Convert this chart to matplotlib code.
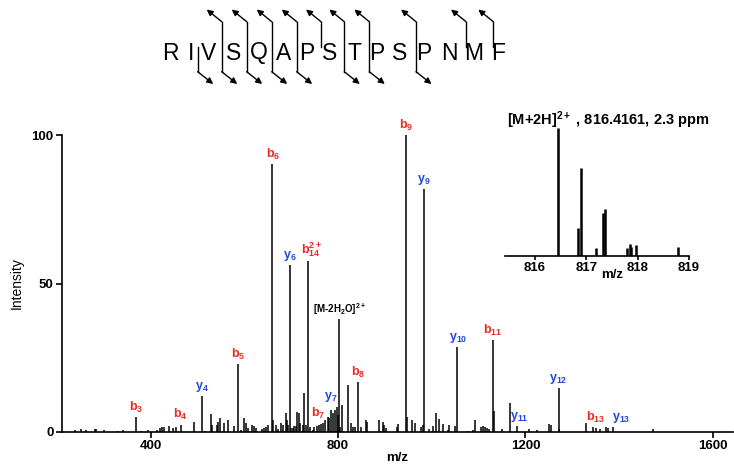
import numpy as np
import matplotlib
matplotlib.use("Agg")
import matplotlib.pyplot as plt

plt.rcParams['font.family'] = ['Liberation Sans', 'DejaVu Sans']
plt.rcParams['mathtext.fontset'] = 'custom'
plt.rcParams['mathtext.rm'] = 'Liberation Sans'
plt.rcParams['mathtext.bf'] = 'Liberation Sans:bold'
plt.rcParams['mathtext.it'] = 'Liberation Sans:italic'

# peptide and observed cleavage sites (site k = between residue k and k+1)
sequence = "RIVSQAPSTPSPNMF"
b_sites = [2, 3, 4, 5, 6, 8, 9, 11]
y_sites = [3, 4, 5, 6, 7, 8, 9, 11, 13, 14]

# MS/MS spectrum (m/z, relative intensity)
mz = [239.6, 251.0, 262.4, 281.0, 283.7, 301.4, 330.0, 342.0, 369.7, 380.0,
      394.0, 414.6, 420.0, 425.0, 429.4, 439.5, 448.6, 455.0, 464.4, 492.8,
      510.6, 516.0, 529.0, 532.0, 542.0, 544.7, 548.0, 557.5, 564.6, 578.8,
      586.5, 593.0, 598.8, 603.7, 608.7, 616.0, 620.0, 624.4, 637.0, 641.5,
      646.4, 650.0, 658.5, 662.0, 667.0, 671.0, 678.4, 683.3, 688.4, 691.0,
      694.0, 697.0, 700.0, 703.3, 705.5, 710.4, 713.2, 716.0, 719.0, 724.7,
      728.2, 731.7, 736.7, 740.0, 746.0, 749.5, 754.5, 758.8, 763.0, 768.7,
      773.0, 778.7, 781.5, 785.8, 788.7, 793.6, 797.2, 799.4, 802.0, 805.0,
      808.0, 821.3, 827.0, 831.0, 836.0, 843.3, 848.4, 859.7, 862.5, 887.0,
      896.0, 898.8, 901.8, 925.0, 927.4, 945.0, 947.0, 957.0, 964.3, 977.0,
      980.7, 983.5, 994.0, 1002.7, 1008.4, 1015.5, 1024.7, 1034.0, 1036.8, 1049.6,
      1053.9, 1076.6, 1088.7, 1092.3, 1105.0, 1110.0, 1113.6, 1117.2, 1122.0, 1130.0,
      1132.8, 1149.0, 1167.0, 1181.0, 1207.5, 1224.0, 1250.8, 1253.8, 1270.8, 1272.5,
      1329.0, 1343.4, 1350.4, 1359.0, 1371.7, 1376.0, 1387.3, 1472.6]
intensity = [0.7, 1.1, 0.6, 0.9, 0.9, 0.6, 0.45, 0.7, 5.0, 0.45,
             0.7, 0.7, 1.5, 1.6, 1.7, 2.0, 1.5, 1.8, 2.5, 3.5,
             12.1, 0.3, 5.9, 2.3, 2.3, 3.5, 4.6, 2.9, 4.0, 2.0,
             23.0, 0.7, 4.8, 2.9, 1.2, 2.3, 2.0, 1.2, 0.9, 1.2,
             1.8, 2.3, 90.3, 4.0, 2.3, 0.9, 2.9, 2.3, 6.3, 4.0,
             2.3, 56.1, 1.2, 1.2, 2.0, 2.0, 6.8, 6.3, 2.9, 2.3,
             13.0, 2.3, 57.5, 1.8, 0.7, 1.8, 2.0, 2.3, 2.6, 2.9,
             4.0, 5.1, 4.6, 7.4, 6.3, 7.4, 8.5, 5.6, 37.9, 1.8,
             9.0, 15.8, 2.9, 1.8, 1.8, 16.9, 1.8, 4.0, 3.4, 4.0,
             3.5, 2.3, 1.2, 1.8, 2.6, 100.0, 5.1, 4.0, 3.1, 1.6,
             2.3, 81.9, 0.9, 2.0, 6.3, 4.3, 2.7, 0.7, 2.3, 2.0,
             28.5, 0.45, 0.7, 4.0, 1.6, 2.0, 1.6, 1.2, 0.9, 31.0,
             7.2, 0.9, 9.8, 2.0, 0.9, 0.7, 2.7, 2.3, 14.8, 0.9,
             2.9, 1.6, 1.2, 0.9, 1.8, 1.5, 1.8, 1.1]

# annotated fragment ions
ion_mz = [369.7, 464.4, 510.6, 586.5, 658.5, 697.0, 736.7, 763.0, 785.8, 802.0,
          843.3, 945.0, 983.5, 1053.9, 1130.0, 1181.0, 1270.8, 1343.4, 1387.3]
ion_labels = [r"b$_{\mathbf{3}}$", r"b$_{\mathbf{4}}$", r"y$_{\mathbf{4}}$",
              r"b$_{\mathbf{5}}$", r"b$_{\mathbf{6}}$", r"y$_{\mathbf{6}}$",
              r"b$_{\mathbf{14}}^{\mathbf{2+}}$", r"b$_{\mathbf{7}}$",
              r"y$_{\mathbf{7}}$", r"[M-2H$_{\mathbf{2}}$O]$^{\mathbf{2+}}$",
              r"b$_{\mathbf{8}}$", r"b$_{\mathbf{9}}$", r"y$_{\mathbf{9}}$",
              r"y$_{\mathbf{10}}$", r"b$_{\mathbf{11}}$", r"y$_{\mathbf{11}}$",
              r"y$_{\mathbf{12}}$", r"b$_{\mathbf{13}}$", r"y$_{\mathbf{13}}$"]
ion_kind = ["b", "b", "y", "b", "b", "y", "b", "b", "y", "m",
            "b", "b", "y", "y", "b", "y", "y", "b", "y"]

# precursor isotope cluster (inset)
iso_mz = [816.45, 816.85, 816.90, 817.19, 817.32, 817.37, 817.79, 817.85,
          817.88, 817.96, 818.78]
iso_int = [100.0, 21.5, 68.6, 6.5, 33.8, 36.4, 6.5, 9.7, 7.1, 8.9, 7.1]
iso_title = r"[M+2H]$^{\mathbf{2+}}$ , 816.4161, 2.3 ppm"

kind_color = {"b": "#ec2a22", "y": "#2347d8", "m": "black"}
# label nudges in points (dx, dy)
ion_dx = [0, 0, 0, 0, 1, 0, 2, -1.5, -0.5, 0, 0, 0, 0, 1, 0, 2, 0, 2, 5.5]
ion_dy = [1.5, 1.5, 1.5, 1.5, 1.5, 1.5, 1.5, 2.5, 4, 1.5,
          1.5, 1.5, 1.5, 1.5, 1.5, 1.5, 1.5, 1.5, 1.5]

fig = plt.figure(figsize=(7.34, 4.67), dpi=100)

# ---- peptide sequence with fragment markers (pixel coordinates) ----
deco = fig.add_axes([0, 0, 1, 1], zorder=-1)
deco.set_xlim(0, 734)
deco.set_ylim(467, 0)
deco.axis('off')
letter_x = [170, 190.7, 208.3, 234, 259.3, 283.3, 306.7, 330, 354, 376.7,
            400, 424, 449.3, 473.3, 498.3]
cut_x = {2: 197.7, 3: 221.7, 4: 246.7, 5: 271.7, 6: 296.7, 7: 321.0,
         8: 344.3, 9: 369.3, 11: 416.0, 13: 466.0, 14: 493.3}
for aa, x in zip(sequence, letter_x):
    deco.text(x, 59.5, aa, ha='center', va='baseline', fontsize=16.5)
arrow = dict(arrowstyle='-|>', color='black', lw=1.0, mutation_scale=9,
             shrinkA=0, shrinkB=0)
for s in sorted(set(b_sites) | set(y_sites)):
    x = cut_x[s]
    top = 21.7 if s in y_sites else 46.7
    bot = 71.7 if s in b_sites else 46.7
    deco.plot([x, x], [top, bot], color='black', lw=1.0)
    if s in y_sites:
        deco.annotate('', xy=(x - 15, 9.5), xytext=(x, top), arrowprops=arrow)
    if s in b_sites:
        deco.annotate('', xy=(x + 15.5, 84), xytext=(x, bot), arrowprops=arrow)

# ---- main spectrum ----
ax = fig.add_axes([62 / 734, 35 / 467, 671 / 734, 297 / 467])
ax.vlines(mz, 0, intensity, color='black', lw=1.1)
ax.set_xlim(211, 1643)
ax.set_ylim(0, 100)
ax.set_xticks([400, 800, 1200, 1600])
ax.set_yticks([0, 50, 100])
ax.spines['top'].set_visible(False)
ax.spines['right'].set_visible(False)
for sp in ('left', 'bottom'):
    ax.spines[sp].set_linewidth(1.2)
ax.tick_params(direction='out', length=4, width=1.2, labelsize=9.5, pad=2)
for lab in ax.get_xticklabels() + ax.get_yticklabels():
    lab.set_fontweight('bold')
ax.set_xlabel('m/z', fontsize=9.5, fontweight='bold')
ax.xaxis.set_label_coords(0.5, -0.068)
ax.set_ylabel('Intensity', fontsize=10)
ax.yaxis.set_label_coords(-0.057, 0.5)

mz_arr = np.array(mz)
int_arr = np.array(intensity)
for m, lab, kind, dx, dy in zip(ion_mz, ion_labels, ion_kind, ion_dx, ion_dy):
    h = int_arr[np.argmin(np.abs(mz_arr - m))]
    fs = 7 if kind == "m" else 9
    ax.annotate(lab, xy=(m, h), xytext=(dx, dy), textcoords='offset points',
                ha='center', va='bottom', color=kind_color[kind],
                fontsize=fs, fontweight='bold')

# ---- inset: precursor isotope envelope ----
ins = fig.add_axes([505 / 734, (467 - 256) / 467, 184 / 734, 128 / 467])
ins.vlines(iso_mz, 0, iso_int, color='black', lw=1.8)
ins.set_xlim(815.42, 819.0)
ins.set_ylim(0, 100)
ins.set_xticks([816, 817, 818, 819])
ins.set_yticks([])
for sp in ('top', 'right', 'left'):
    ins.spines[sp].set_visible(False)
ins.spines['bottom'].set_linewidth(1.2)
ins.patch.set_alpha(0)
ins.tick_params(direction='out', length=3, width=1.2, labelsize=9.5, pad=1)
for lab in ins.get_xticklabels():
    lab.set_fontweight('bold')
ins.set_xlabel('m/z', fontsize=9.5, fontweight='bold')
ins.xaxis.set_label_coords(0.58, -0.105)
ins.text(0.01, 1.06, iso_title, transform=ins.transAxes, ha='left',
         va='center', fontsize=10.5, fontweight='bold')

fig.savefig('out.png', dpi=100)
